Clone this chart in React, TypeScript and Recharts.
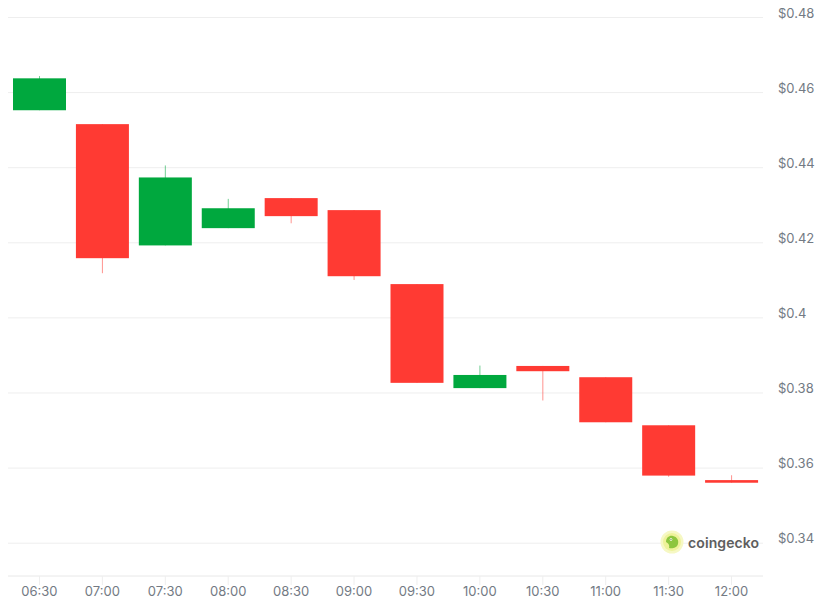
import React from "react";
import { ComposedChart, Bar, XAxis, YAxis, CartesianGrid } from "recharts";

const times = ["06:30", "07:00", "07:30", "08:00", "08:30", "09:00", "09:30", "10:00", "10:30", "11:00", "11:30", "12:00"];
const opens = [0.4553, 0.4516, 0.4193, 0.4239, 0.4319, 0.4287, 0.409, 0.3813, 0.3872, 0.3842, 0.3714, 0.3568];
const highs = [0.4644, 0.4516, 0.4406, 0.4317, 0.4319, 0.4287, 0.409, 0.3873, 0.3872, 0.3842, 0.3714, 0.3581];
const lows = [0.4553, 0.4119, 0.4193, 0.4239, 0.4252, 0.4101, 0.3827, 0.3813, 0.378, 0.3722, 0.3577, 0.3561];
const closes = [0.4638, 0.4159, 0.4374, 0.4292, 0.4271, 0.4111, 0.3827, 0.3848, 0.3858, 0.3722, 0.358, 0.3561];
const yTicks = [0.34, 0.36, 0.38, 0.4, 0.42, 0.44, 0.46, 0.48];

const UP = "#00a83e";
const DOWN = "#ff3a33";

const data = times.map((t, i) => ({
  time: t,
  open: opens[i],
  high: highs[i],
  low: lows[i],
  close: closes[i],
  range: [lows[i], highs[i]],
}));

const Candle = (props: any) => {
  const { x, y, width, height, payload } = props;
  if (x == null || y == null || !payload) return null;
  const top = Math.min(y, y + height);
  const h = Math.abs(height);
  const { open, close, high, low } = payload;
  const span = high - low;
  const pix = (v: number) => (span === 0 ? top : top + ((high - v) / span) * h);
  const up = close >= open;
  const color = up ? UP : DOWN;
  const bTop = pix(Math.max(open, close));
  const bBot = pix(Math.min(open, close));
  const bh = Math.max(1.5, bBot - bTop);
  const cx = x + width / 2;
  return (
    <g>
      <line x1={cx} x2={cx} y1={top} y2={top + h} stroke={color} strokeOpacity={0.55} strokeWidth={1} />
      <rect x={x} y={bTop} width={width} height={bh} fill={color} />
    </g>
  );
};

const YTick = (props: any) => {
  const { x, y, payload } = props;
  return (
    <text x={x} y={y - 4.5} dy="0.355em" textAnchor="start" fill="#737a84" fontSize={13}>
      {`$${payload.value}`}
    </text>
  );
};

const Logo = () => (
  <div
    style={{
      position: "absolute",
      left: 652,
      top: 530,
      display: "flex",
      alignItems: "center",
      height: 24,
    }}
  >
    <svg width={24} height={24} viewBox="0 0 24 24">
      <circle cx={12} cy={12} r={11.5} fill="#f6f8c4" />
      <circle cx={12} cy={12} r={9} fill="#eef29a" />
      <path d="M6 12 C6 7, 10 5, 13 6 C17 7, 19 10, 18 14 C17 18, 12 19, 9 18 C10 15, 8 13, 6 12 Z" fill="#8dc63f" />
      <circle cx={11} cy={9.5} r={1.3} fill="#ffffff" />
      <circle cx={11} cy={9.5} r={0.6} fill="#3b5e1a" />
    </svg>
    <span
      style={{
        marginLeft: 4,
        fontFamily: "Inter, 'Noto Sans', sans-serif",
        fontWeight: 600,
        fontSize: 14,
        color: "#5e5e5e",
        letterSpacing: 0.1,
      }}
    >
      coingecko
    </span>
  </div>
);

export default function App() {
  return (
    <div style={{ position: "relative", width: 817, height: 601, marginTop: -8 }}>
      <ComposedChart
        width={817}
        height={601}
        data={data}
        margin={{ top: 8, right: 0, bottom: 0, left: 0 }}
        style={{ fontFamily: "Inter, 'Noto Sans', sans-serif" }}
      >
        <CartesianGrid vertical={false} stroke="#eeeeee" horizontalValues={yTicks} />
        <XAxis
          dataKey="time"
          height={25}
          axisLine={{ stroke: "#e8e8e8" }}
          tickLine={{ stroke: "#eeeeee" }}
          tickSize={9}
          tickMargin={2}
          tick={{ fill: "#737a84", fontSize: 13 }}
          interval={0}
        />
        <YAxis
          orientation="right"
          width={62}
          domain={[0.33126, 0.48253]}
          allowDataOverflow
          ticks={yTicks}
          axisLine={false}
          tickLine={false}
          tickSize={0}
          tickMargin={15}
          tick={<YTick />}
        />
        <Bar dataKey="range" barSize={53} shape={Candle} isAnimationActive={false} />
      </ComposedChart>
      <Logo />
    </div>
  );
}
